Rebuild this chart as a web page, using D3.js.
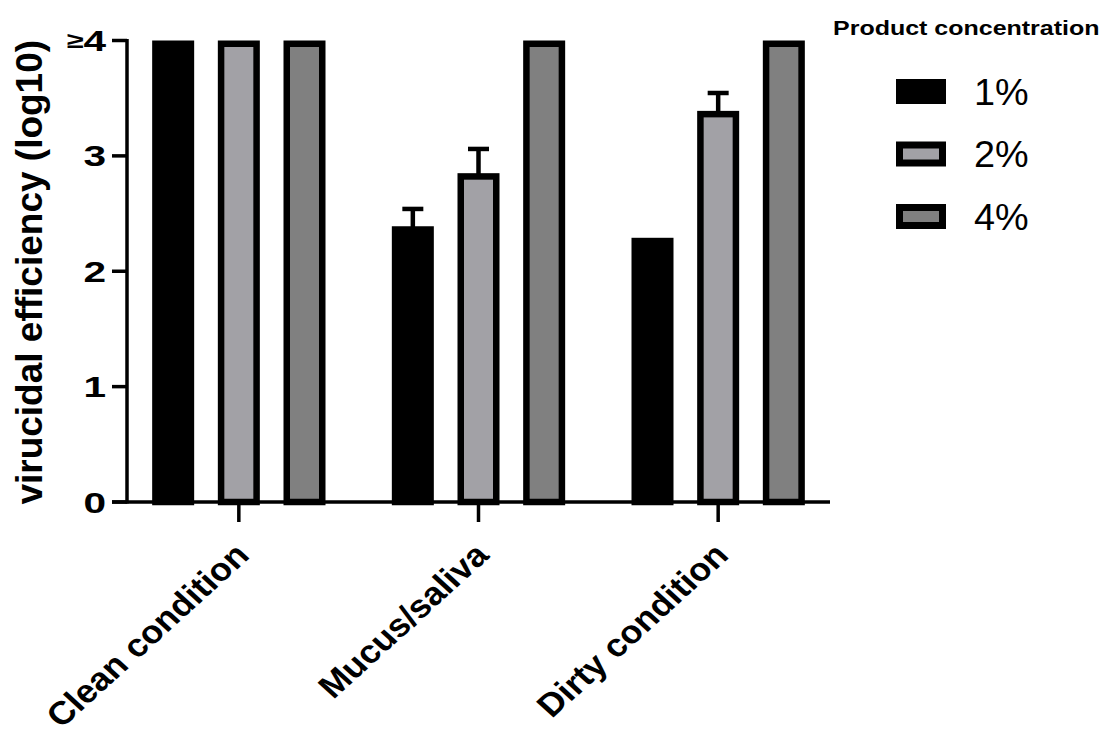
<!DOCTYPE html>
<html>
<head>
<meta charset="utf-8">
<script src="https://cdn.jsdelivr.net/npm/d3@7"></script>
<style>
  html, body { margin: 0; padding: 0; background: #fff; }
  svg text { font-family: "Liberation Sans", Arial, sans-serif; fill: #000; }
</style>
</head>
<body>
<svg id="chart" width="1102" height="734"></svg>
<script>
// ── Data ──
const categories = ["Clean condition", "Mucus/saliva", "Dirty condition"];
const seriesNames = ["1%", "2%", "4%"];
const values1 = [4, 2.39, 2.29];
const values2 = [4, 2.85, 3.39];
const values4 = [4, 4, 4];
const errors1 = [0, 0.15, 0];
const errors2 = [0, 0.21, 0.155];
const errors4 = [0, 0, 0];
const yTickValues = [0, 1, 2, 3, 4];
const yTickLabels = ["0", "1", "2", "3", "4"];

const fills = ["#000000", "#a2a1a6", "#808080"];

const svg = d3.select("#chart");

// ── Layout ──
const AXIS_X = 127;
const BASE_Y = 502;
const TOP_Y  = 40.5;
const BAR_W  = 42;
const SW     = 6.5;   // bar border

const y = d3.scaleLinear().domain([0, 4]).range([BASE_Y, TOP_Y]);
const x0 = d3.scaleBand().domain(categories).range([119, 838]).padding(0);
const x1 = d3.scaleBand().domain(seriesNames).range([-98.5, 98.5]).padding(0);

const table = seriesNames.map((s, i) => ({
  name: s,
  fill: fills[i],
  values: [values1, values2, values4][i],
  errors: [errors1, errors2, errors4][i]
}));

// ── Bars ──
table.forEach(series => {
  categories.forEach((cat, j) => {
    const cx = x0(cat) + x0.bandwidth() / 2 + x1(series.name) + x1.bandwidth() / 2;
    const v = series.values[j];
    const err = series.errors[j];

    // error bar (upper only) drawn first so bar border covers its foot
    if (err > 0) {
      svg.append("line")
        .attr("x1", cx).attr("x2", cx)
        .attr("y1", y(v) + 2).attr("y2", y(v + err))
        .attr("stroke", "#000").attr("stroke-width", 4.5);
      svg.append("line")
        .attr("x1", cx - 10.5).attr("x2", cx + 10.5)
        .attr("y1", y(v + err)).attr("y2", y(v + err))
        .attr("stroke", "#000").attr("stroke-width", 4.5);
    }

    svg.append("rect")
      .attr("x", cx - BAR_W / 2 + SW / 2)
      .attr("y", y(v) + SW / 2)
      .attr("width", BAR_W - SW)
      .attr("height", y(0) - y(v) - SW / 2)
      .attr("fill", series.fill)
      .attr("stroke", "#000")
      .attr("stroke-width", SW);
  });
});

// ── Y axis ──
svg.append("line")
  .attr("x1", AXIS_X).attr("x2", AXIS_X)
  .attr("y1", TOP_Y - 1.5).attr("y2", BASE_Y + 1.5)
  .attr("stroke", "#000").attr("stroke-width", 3.5);

yTickValues.forEach((t, i) => {
  svg.append("line")
    .attr("x1", 112).attr("x2", AXIS_X)
    .attr("y1", y(t)).attr("y2", y(t))
    .attr("stroke", "#000").attr("stroke-width", 3.5);

  const lbl = svg.append("text")
    .attr("transform", `translate(106,${y(t) + 10.5}) scale(1.4,1)`)
    .attr("text-anchor", "end")
    .attr("font-size", "29px")
    .attr("font-weight", "bold");
  // top of the axis is open-ended: "≥4"
  if (t === 4) {
    lbl.append("tspan")
      .attr("font-size", "22px")
      .attr("dy", -3)
      .text("\u2265");
    lbl.append("tspan").attr("dy", 3).text(yTickLabels[i]);
  } else {
    lbl.text(yTickLabels[i]);
  }
});

svg.append("text")
  .attr("transform", `translate(42,${(TOP_Y + BASE_Y) / 2 + 1}) rotate(-90)`)
  .attr("text-anchor", "middle")
  .attr("font-size", "37px")
  .attr("font-weight", "bold")
  .text("virucidal efficiency (log10)");

// ── X axis ──
svg.append("line")
  .attr("x1", 112).attr("x2", 830)
  .attr("y1", BASE_Y).attr("y2", BASE_Y)
  .attr("stroke", "#000").attr("stroke-width", 3.5);

categories.forEach(cat => {
  const cx = x0(cat) + x0.bandwidth() / 2;
  svg.append("line")
    .attr("x1", cx).attr("x2", cx)
    .attr("y1", BASE_Y).attr("y2", 522)
    .attr("stroke", "#000").attr("stroke-width", 3.5);

  svg.append("text")
    .attr("transform", `translate(${cx + 12},557) scale(1.1,1) rotate(-45)`)
    .attr("text-anchor", "end")
    .attr("font-size", "32.5px")
    .attr("font-weight", "bold")
    .text(cat);
});

// ── Legend ──
svg.append("text")
  .attr("transform", "translate(833,35) scale(1.25,1)")
  .attr("font-size", "20px")
  .attr("font-weight", "bold")
  .text("Product concentration");

table.forEach((series, i) => {
  const cy = 91.5 + i * 62.5;
  svg.append("rect")
    .attr("x", 896 + 3.5).attr("y", cy - 12.5 + 3.5)
    .attr("width", 43).attr("height", 18)
    .attr("fill", series.fill)
    .attr("stroke", "#000").attr("stroke-width", 7);

  svg.append("text")
    .attr("transform", `translate(974,${cy + 13}) scale(1.05,1)`)
    .attr("font-size", "36px")
    .text(series.name);
});
</script>
</body>
</html>
